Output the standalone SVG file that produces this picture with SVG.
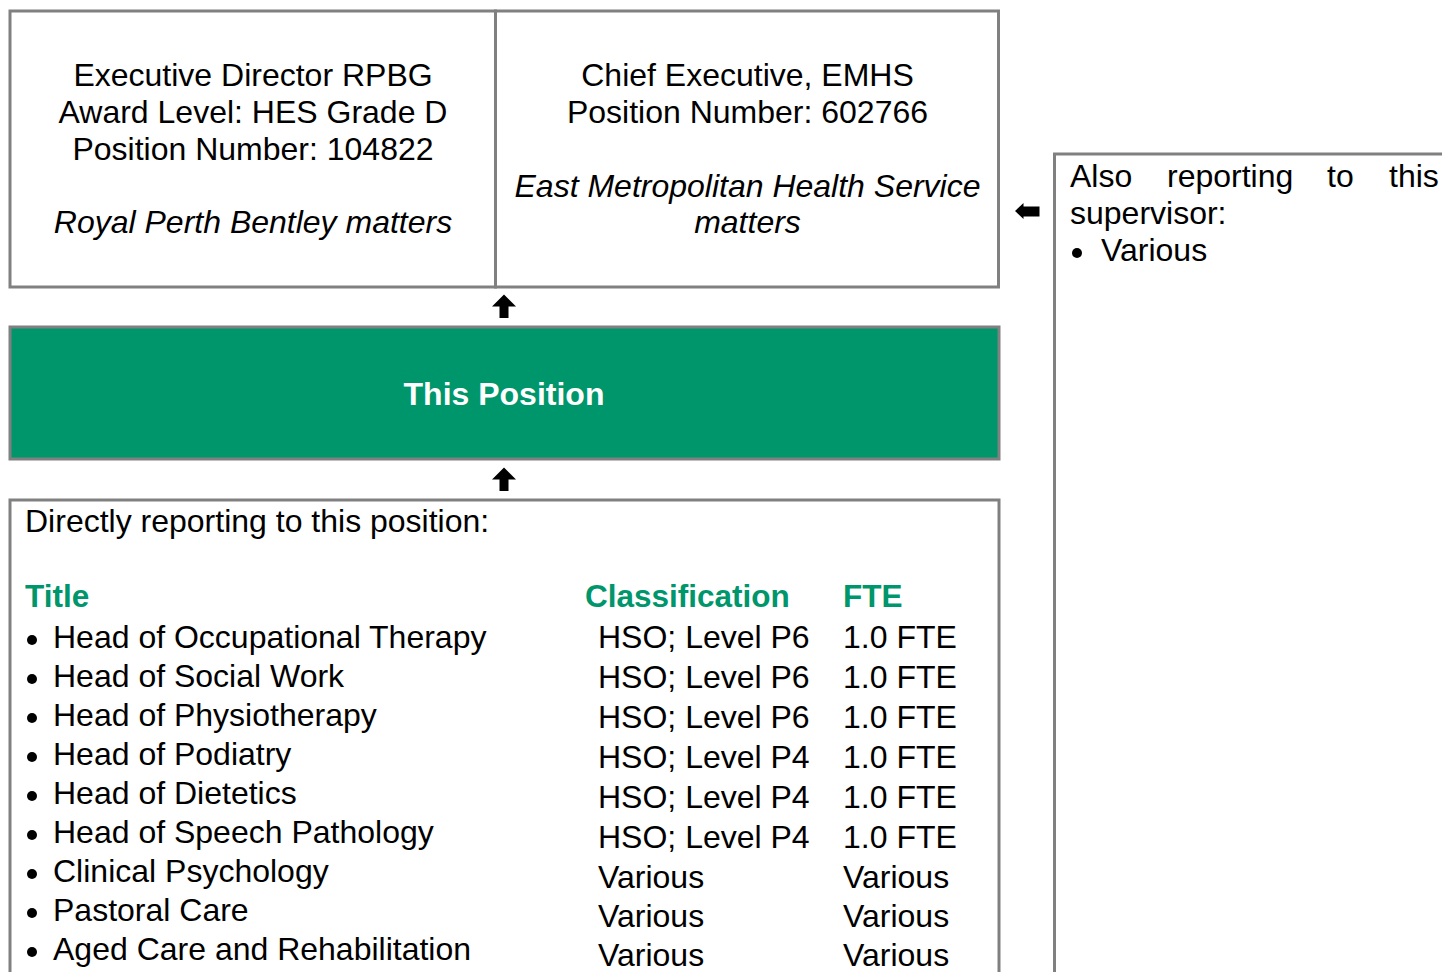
<svg xmlns="http://www.w3.org/2000/svg" width="1442" height="972" viewBox="0 0 1442 972">
<style>
  .box { fill: #ffffff; stroke: #808080; stroke-width: 3; }
  .green { fill: #00966C; stroke: #808080; stroke-width: 3; }
  .t { font-family: "Liberation Sans", Arial, sans-serif; font-size: 32px; fill: #000000; }
  .c { text-anchor: middle; }
  .i { font-style: italic; }
  .hdr { font-family: "Liberation Sans", Arial, sans-serif; font-size: 31.5px; font-weight: bold; fill: #00966C; }
  .pos { font-family: "Liberation Sans", Arial, sans-serif; font-size: 32px; font-weight: bold; fill: #ffffff; text-anchor: middle; }
  .arrow { fill: #000000; }
  .dot { fill: #000000; }
</style>
<rect width="1442" height="972" fill="#ffffff"/>

<g id="node-exec-director">
  <rect class="box" x="10" y="11" width="485.5" height="276"/>
  <text class="t c" x="253" y="86">Executive Director RPBG</text>
  <text class="t c" x="253" y="123">Award Level: HES Grade D</text>
  <text class="t c" x="253" y="160">Position Number: 104822</text>
  <text class="t c i" x="253" y="233">Royal Perth Bentley matters</text>
</g>

<g id="node-chief-executive">
  <rect class="box" x="495.5" y="11" width="503" height="276"/>
  <text class="t c" x="747.5" y="86">Chief Executive, EMHS</text>
  <text class="t c" x="747.5" y="123">Position Number: 602766</text>
  <text class="t c i" x="747.5" y="197">East Metropolitan Health Service</text>
  <text class="t c i" x="747.5" y="233">matters</text>
</g>

<g id="node-also-reporting">
  <rect class="box" x="1054.5" y="154" width="500" height="900"/>
  <text class="t" x="1070" y="187">Also</text>
  <text class="t" x="1167" y="187">reporting</text>
  <text class="t" x="1327" y="187">to</text>
  <text class="t" x="1389" y="187">this</text>
  <text class="t" x="1070" y="224">supervisor:</text>
  <circle class="dot" cx="1077" cy="253" r="5"/>
  <text class="t" x="1101" y="261">Various</text>
</g>

<g id="node-this-position">
  <rect class="green" x="10" y="327" width="989" height="132"/>
  <text class="pos" x="504" y="405">This Position</text>
</g>

<g id="node-direct-reports">
  <rect class="box" x="10" y="500" width="989" height="600"/>
  <text class="t" x="25" y="532">Directly reporting to this position:</text>
  <text class="hdr" x="25" y="607">Title</text>
  <text class="hdr" x="585" y="607">Classification</text>
  <text class="hdr" x="843" y="607">FTE</text>

  <g id="col-title">
    <circle class="dot" cx="32" cy="640" r="5"/><text class="t" x="53" y="648">Head of Occupational Therapy</text>
    <circle class="dot" cx="32" cy="679" r="5"/><text class="t" x="53" y="687">Head of Social Work</text>
    <circle class="dot" cx="32" cy="718" r="5"/><text class="t" x="53" y="726">Head of Physiotherapy</text>
    <circle class="dot" cx="32" cy="757" r="5"/><text class="t" x="53" y="765">Head of Podiatry</text>
    <circle class="dot" cx="32" cy="796" r="5"/><text class="t" x="53" y="804">Head of Dietetics</text>
    <circle class="dot" cx="32" cy="835" r="5"/><text class="t" x="53" y="843">Head of Speech Pathology</text>
    <circle class="dot" cx="32" cy="874" r="5"/><text class="t" x="53" y="882">Clinical Psychology</text>
    <circle class="dot" cx="32" cy="913" r="5"/><text class="t" x="53" y="921">Pastoral Care</text>
    <circle class="dot" cx="32" cy="952" r="5"/><text class="t" x="53" y="960">Aged Care and Rehabilitation</text>
  </g>
  <g id="col-classification">
    <text class="t" x="598" y="648">HSO; Level P6</text>
    <text class="t" x="598" y="688">HSO; Level P6</text>
    <text class="t" x="598" y="728">HSO; Level P6</text>
    <text class="t" x="598" y="768">HSO; Level P4</text>
    <text class="t" x="598" y="808">HSO; Level P4</text>
    <text class="t" x="598" y="848">HSO; Level P4</text>
    <text class="t" x="598" y="888">Various</text>
    <text class="t" x="598" y="927">Various</text>
    <text class="t" x="598" y="966">Various</text>
  </g>
  <g id="col-fte">
    <text class="t" x="843" y="648">1.0 FTE</text>
    <text class="t" x="843" y="688">1.0 FTE</text>
    <text class="t" x="843" y="728">1.0 FTE</text>
    <text class="t" x="843" y="768">1.0 FTE</text>
    <text class="t" x="843" y="808">1.0 FTE</text>
    <text class="t" x="843" y="848">1.0 FTE</text>
    <text class="t" x="843" y="888">Various</text>
    <text class="t" x="843" y="927">Various</text>
    <text class="t" x="843" y="966">Various</text>
  </g>
</g>

<g id="connectors">
  <polygon class="arrow" points="504,294.5 516,306.5 508.5,306.5 508.5,318 499.5,318 499.5,306.5 492,306.5"/>
  <polygon class="arrow" points="504,467.5 516,479.5 508.5,479.5 508.5,491 499.5,491 499.5,479.5 492,479.5"/>
  <polygon class="arrow" points="1015,211 1023.5,203 1023.5,206.5 1039.5,206.5 1039.5,216.5 1023.5,216.5 1023.5,219"/>
</g>
</svg>
